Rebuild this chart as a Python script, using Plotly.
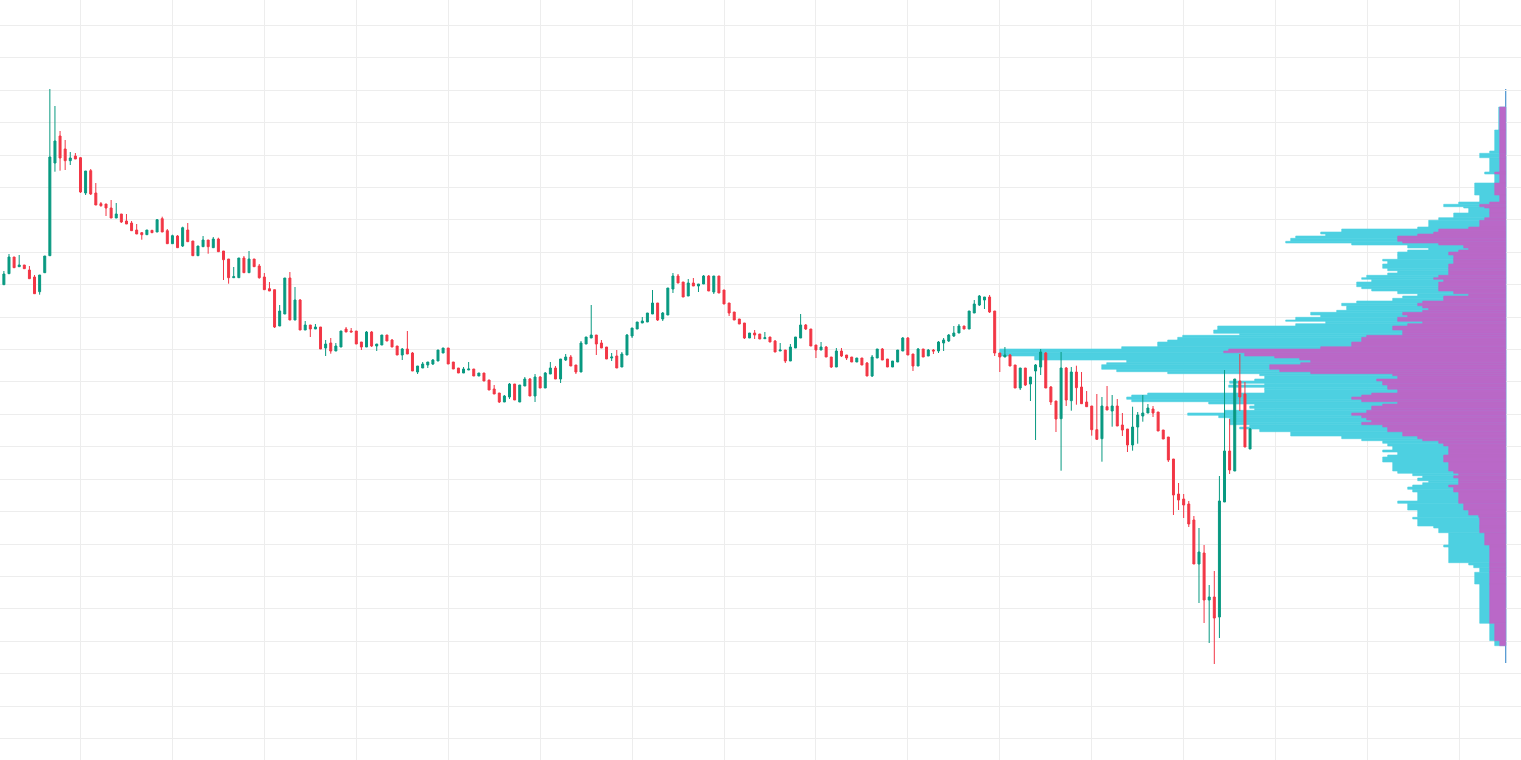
import plotly.graph_objects as go

# ---------------- candle data (price units, arbitrary scale) ----------------
opens = [475.3, 486.3, 503, 493.3, 495, 490, 483, 468.3, 487.3, 504.3,
         597, 624, 611, 599.3, 604, 602.3, 567, 589.3, 567, 556.3,
         556, 552, 542, 546, 539, 537, 530, 527.3, 525.3, 529.7,
         528, 541.3, 529.3, 516.3, 524, 514, 530, 519, 504.3, 513.3,
         520, 512.3, 521, 509, 501, 482.3, 482.3, 502, 487.3, 501,
         494, 483, 471.3, 470.3, 434, 446, 482, 440, 460, 430,
         435, 431, 433, 412, 417, 409, 413, 431, 429, 429,
         418, 413, 428, 414, 415, 425, 420, 414, 405, 411,
         407, 388, 392, 395, 396, 399, 407, 412, 398, 392,
         387, 390, 391, 384, 387, 380, 371, 367, 358, 363,
         376, 358, 374, 381, 364, 383, 372, 386, 392, 381,
         400, 403, 395, 388, 416, 422, 425, 417, 413, 402,
         404, 393, 405, 424, 431, 437, 438, 446, 457, 441,
         445, 471, 484, 478, 464, 477, 474, 476, 484, 468,
         484, 470, 457, 448, 441, 437, 422, 427, 426, 421.3,
         423, 419, 409, 410, 399, 412, 422, 435, 431, 415,
         410, 413, 403, 393, 409, 405, 403, 398, 402, 397,
         384, 402, 411, 401, 393, 398, 409, 422, 406, 394,
         411, 404, 410, 409, 417, 419, 424, 427, 434, 431,
         447, 455, 460, 463, 449, 407, 403, 405, 395, 372,
         392, 376, 389, 393, 407, 373, 359, 341.3, 392, 359.3,
         388, 373, 358, 354, 330.3, 321.3, 353.3, 349, 354, 335,
         331, 315, 333, 344, 347, 351, 348, 330, 323, 301,
         266, 261, 256, 240, 196, 207, 160, 163, 143, 258,
         309, 289, 379, 366, 311]

highs = [489, 506, 503, 505, 495, 494, 485, 485, 504, 671,
         654, 629, 620, 608, 607, 603, 589, 591, 577, 558,
         556, 560, 557, 546, 546, 539, 536, 528, 530, 530,
         541, 543.3, 531, 525.3, 525, 533.3, 537, 519, 514, 524,
         520, 523, 522.3, 509, 501, 493, 502, 504, 509, 501,
         496, 487, 478, 470.3, 455, 482, 488, 473, 461, 439,
         435, 436, 433, 420, 422, 417, 429, 433, 432, 429,
         418, 429, 429, 416, 425, 425, 421, 414, 412, 429,
         408, 394, 398, 398, 401, 410, 412, 412, 398, 392,
         393, 398, 391, 387, 387, 380, 375, 367, 365, 377,
         376, 375, 383, 382, 386, 384, 388, 398, 394, 401,
         406, 405, 395, 419, 423, 455, 425, 420, 413, 407,
         410, 408, 426, 432, 438, 443, 447, 470, 457, 448,
         472, 487, 486, 478, 481, 482, 476, 485, 485, 484,
         484, 470, 457, 448, 441, 437, 427, 430, 426, 428,
         423, 420, 417, 410, 416, 423, 446, 436, 431, 415,
         418, 414, 403, 412, 412, 405, 403, 402, 402, 398,
         405, 411, 412, 401, 399, 410, 423, 423, 406, 412,
         411, 411, 411, 419, 422, 426, 434, 436, 434, 449,
         460, 465, 463, 465, 449, 407, 413, 406, 395, 392,
         392, 383, 396, 411, 408, 374, 359, 408, 393, 393,
         394.3, 388, 369, 354, 366, 363, 374, 365, 361, 347,
         331, 353.3, 348, 365, 356, 354, 348, 330, 323, 301,
         277, 266, 259, 244, 232, 215, 175, 189, 284, 390,
         341, 381, 406, 378, 332]

lows = [475.3, 486, 492, 493, 491, 481, 466, 465.3, 487, 504,
        588.3, 589.3, 590, 595, 601, 567, 565, 565, 555, 553.3,
        544, 542, 542, 537, 536, 529, 526, 520.3, 525, 527,
        528, 528, 516, 516, 512, 513, 518, 504, 504, 513,
        506.3, 512, 508, 480, 476.3, 482, 482, 487, 487, 493,
        481.3, 470, 469, 432, 434, 446, 440, 440, 430, 430,
        423, 431, 411, 404, 406.3, 409, 413, 428, 428, 416,
        410, 413, 413, 409, 415, 419, 413, 405, 400, 406,
        389, 386, 392, 392, 395, 399, 407, 396, 391, 387,
        387, 390, 384, 384, 379, 370, 366, 357, 358, 361,
        360, 358, 374, 364, 358, 372, 372, 386, 381, 377,
        399, 394, 386, 388, 416, 422, 405, 412, 401, 399,
        392, 393, 405, 422, 431, 437, 438, 446, 439, 439,
        445, 467, 477, 463, 464, 474, 468, 476, 469, 466,
        467, 456, 444, 440, 436, 421, 422, 421, 421, 421,
        418, 408, 409, 397, 399, 412, 422, 430, 414, 402,
        410, 403, 392, 393, 403, 400, 398, 398, 395, 384,
        383, 402, 400, 393, 393, 398, 409, 405, 389, 394,
        403, 404, 406, 407, 409, 418, 423, 427, 431, 431,
        447, 454, 451, 447, 404, 388, 403, 394, 372, 370,
        374, 359, 320, 385, 372, 355, 328, 289.3, 354, 349.3,
        355.3, 356, 353, 324.3, 320, 298.3, 350, 333.3, 334, 324,
        308, 309.3, 316.3, 338.3, 347, 343, 329, 321, 298, 245,
        250, 242, 233, 196, 157, 137, 117, 96, 122, 258,
        286, 289, 349, 313, 311]

closes = [486, 503, 492.3, 495, 491.3, 481.3, 466.3, 485, 504, 603,
          619, 602, 599.3, 602, 601, 568, 589, 566, 555, 554.3,
          552, 542, 546, 538, 536, 529.3, 526, 525.3, 530, 527.3,
          540.3, 528, 516.3, 524.3, 512.3, 532.3, 518.3, 504.3, 514, 520,
          513.3, 521, 508.3, 500.3, 482.3, 483.3, 502, 487.3, 501, 493.3,
          482.3, 470.3, 469, 433, 449, 482, 440, 460, 430, 435,
          431, 433, 411, 416, 409, 414, 429, 428, 428, 416,
          413, 428, 414, 416, 425, 419, 413, 405, 411, 406,
          389, 394, 396, 398, 400, 410, 412, 396, 391, 387,
          391, 391, 384, 387, 379, 370, 366, 358, 364, 376,
          360, 375, 381, 364, 383, 372, 387, 392, 381, 401,
          403, 394, 388, 417, 423, 425, 416, 412, 401, 403,
          392, 406, 425, 432, 438, 439, 447, 457, 440, 447,
          472, 484, 477, 463, 477, 474, 476, 484, 469, 484,
          467, 456, 447, 440, 436, 422, 427, 425, 421, 422.3,
          418, 408, 410, 399, 413, 423, 435, 431, 414, 410,
          413, 403, 393, 409, 404, 402, 398, 402, 395, 384,
          403, 411, 400, 393, 399, 410, 422, 405, 394, 411,
          403, 410, 409, 418, 420, 425, 427, 434, 431, 449,
          456, 464, 463, 448, 407, 403, 405, 394, 372, 392,
          375, 383, 395, 408, 372, 358, 341, 392, 360, 388,
          372.3, 356.3, 353.3, 330.3, 320.7, 354, 350, 354, 334, 330,
          315, 333, 345, 347, 352, 347, 329, 321, 300, 265,
          260, 255, 236, 196, 208, 160, 163, 142, 259, 309,
          290, 381, 363, 313, 331]

bars = list(range(len(opens)))

# ---------------- volume profile data ----------------
prof_edges = [653, 630, 609, 606.7, 602.3, 588, 586, 577, 565, 558,
              555.7, 553.3, 552, 547, 542.3, 539.7, 533, 531, 528, 526,
              524, 521.7, 518.7, 517, 515, 512, 510, 508, 505, 500.7,
              499, 496, 491.7, 489.3, 487, 484.7, 482.3, 480.7, 478, 473.3,
              471.3, 469, 466.3, 464, 461.7, 459, 456.7, 454.3, 452, 449.7,
              447.7, 445, 442.7, 440, 438.7, 436.3, 434, 430, 426.7, 424.7,
              422.7, 420, 418, 416, 413.3, 411, 409, 407.3, 404, 402,
              400, 397.3, 395.3, 390.7, 388.3, 386.3, 384.3, 381, 379, 376.7,
              375, 372.7, 370.7, 367, 365, 363, 360.7, 358.3, 356, 354,
              351.7, 349.7, 347, 344.7, 342.3, 340, 337.7, 335.3, 333, 331,
              328.3, 324, 321.3, 319.3, 316.7, 314, 310, 308, 305, 303,
              298, 289, 286.7, 284.3, 282, 279.3, 277.3, 275, 273, 270.7,
              268, 259, 256.7, 250, 245, 242.7, 241, 234, 232, 227.3,
              215, 213, 197.3, 195, 192.3, 187.7, 176, 136.7, 119.3, 114.3]

vol_total = [7, 11, 16, 26, 16, 21, 11, 31, 26, 47,
             62, 42, 37, 52, 67, 77, 88, 164, 185, 180,
             210, 215, 220, 154, 98, 77, 98, 108, 108, 123,
             118, 123, 118, 108, 118, 139, 144, 134, 149, 144,
             134, 108, 88, 103, 113, 149, 164, 159, 159, 169,
             195, 185, 210, 220, 180, 210, 288, 292, 266, 323,
             328, 338, 348, 348, 384, 506, 506, 506, 471, 471,
             379, 399, 404, 389, 338, 246, 241, 251, 276, 241,
             277, 241, 241, 358, 374, 379, 374, 297, 251, 256,
             251, 281, 318, 287, 276, 276, 276, 256, 266, 246,
             215, 164, 144, 123, 118, 113, 123, 108, 118, 123,
             113, 108, 93, 83, 88, 77, 83, 93, 98, 93,
             88, 108, 98, 88, 88, 93, 88, 72, 67, 57,
             62, 57, 37, 32, 26, 31, 26, 16, 11]

vol_up = [6, 6, 6, 6, 6, 11, 6, 11, 6, 16,
          26, 21, 16, 16, 21, 26, 37, 67, 72, 88,
          108, 108, 103, 67, 42, 37, 47, 57, 52, 52,
          52, 57, 57, 57, 57, 67, 72, 62, 67, 67,
          67, 52, 37, 62, 62, 83, 88, 83, 77, 83,
          103, 98, 108, 108, 83, 98, 113, 103, 103, 139,
          144, 144, 154, 154, 185, 277, 282, 261, 231, 206,
          195, 205, 236, 226, 195, 113, 108, 129, 123, 123,
          118, 118, 108, 134, 144, 154, 144, 108, 123, 134,
          134, 139, 154, 144, 139, 134, 144, 123, 118, 118,
          103, 88, 83, 67, 62, 57, 57, 57, 62, 62,
          57, 52, 47, 52, 47, 47, 47, 57, 52, 52,
          47, 47, 42, 37, 27, 26, 26, 26, 26, 21,
          16, 16, 16, 16, 16, 16, 16, 11, 6]

profile_span = [97, 671]  # price span covered by the profile

n = min(len(prof_edges) - 1, len(vol_total), len(vol_up))
prof_mid = [(prof_edges[k] + prof_edges[k + 1]) / 2 for k in range(n)]
prof_h = [prof_edges[k] - prof_edges[k + 1] for k in range(n)]

GREEN = "#089981"
RED = "#f23645"
CYAN = "#4dd0e1"
PURPLE = "#ba68c8"
GRID = "#ededed"

fig = go.Figure()

fig.add_trace(go.Bar(
    y=prof_mid, x=vol_total[:n], width=prof_h, orientation="h",
    xaxis="x", yaxis="y",
    marker=dict(color=CYAN, line=dict(color=CYAN, width=0.6)),
    hoverinfo="skip", showlegend=False))
fig.add_trace(go.Bar(
    y=prof_mid, x=vol_up[:n], width=prof_h, orientation="h",
    xaxis="x", yaxis="y",
    marker=dict(color=PURPLE, line=dict(color=PURPLE, width=0.6)),
    hoverinfo="skip", showlegend=False))

fig.add_trace(go.Candlestick(
    x=bars, open=opens, high=highs, low=lows, close=closes,
    xaxis="x2", yaxis="y",
    increasing=dict(line=dict(color=GREEN, width=1), fillcolor=GREEN),
    decreasing=dict(line=dict(color=RED, width=1), fillcolor=RED),
    whiskerwidth=0, showlegend=False))

fig.add_shape(type="line", xref="x", yref="y", x0=0, x1=0,
              y0=profile_span[0], y1=profile_span[1], layer="below",
              line=dict(color="#4a93d0", width=1.2))

fig.update_layout(
    width=1521, height=760,
    margin=dict(l=0, r=0, t=0, b=0, pad=0),
    paper_bgcolor="white", plot_bgcolor="white",
    showlegend=False, barmode="overlay", boxgap=0.45,
    xaxis=dict(range=[1505.7, -15.3], showgrid=False, zeroline=False,
               showticklabels=False, showline=False, ticks="",
               rangeslider=dict(visible=False), fixedrange=True),
    xaxis2=dict(overlaying="x", anchor="y", side="bottom",
                range=[-0.76, 297.05], tickmode="linear", tick0=15, dtick=18,
                showgrid=True, gridcolor=GRID, gridwidth=1, zeroline=False,
                showticklabels=False, showline=False, ticks="",
                rangeslider=dict(visible=False), fixedrange=True),
    yaxis=dict(range=[0, 760], tickmode="linear", tick0=669.7, dtick=32.41,
               showgrid=True, gridcolor=GRID, gridwidth=1, zeroline=False,
               showticklabels=False, showline=False, ticks="", fixedrange=True),
)

fig.write_html("out.html", config={"displayModeBar": False})
